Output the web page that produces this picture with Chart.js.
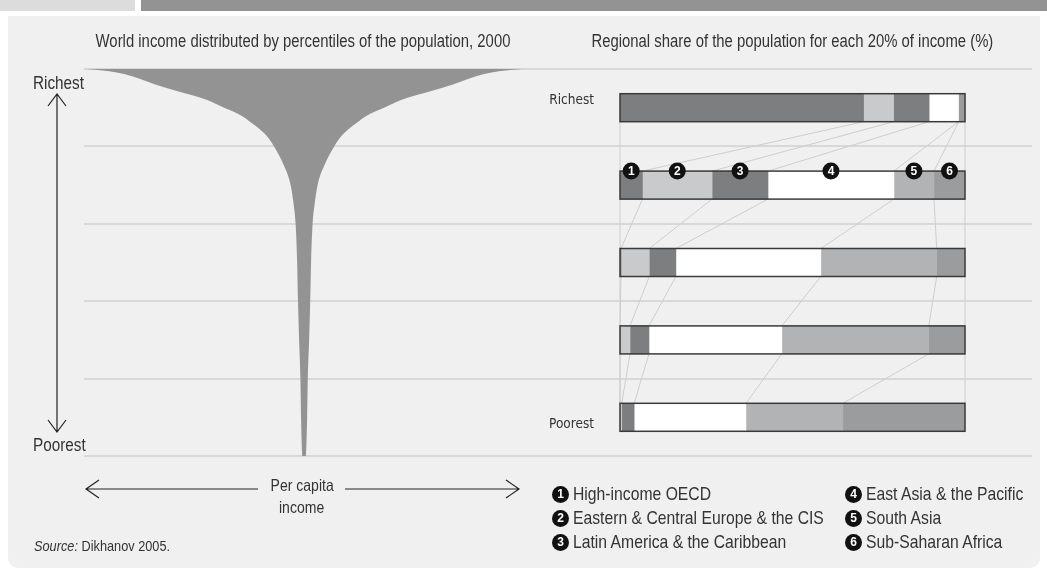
<!DOCTYPE html>
<html>
<head>
<meta charset="utf-8">
<script src="https://cdn.jsdelivr.net/npm/chart.js@4.4.1/dist/chart.umd.min.js"></script>
<style>
  body { margin: 0; width: 1047px; height: 572px; position: relative; overflow: hidden; background: #fff;
         font-family: "Liberation Sans", Arial, sans-serif; color: #333; }
  .abs { position: absolute; }
  .hdrL { left: 0; top: 0; width: 135px; height: 11px; background: #dcdcdc; }
  .hdrR { left: 141px; top: 0; width: 906px; height: 11px; background: #939393; }
  .panel { left: 8px; top: 16px; width: 1032px; height: 552px; background: #f0f0f0; border-radius: 0 0 10px 10px; }
  canvas { position: absolute; left: 0; top: 0; }
  .c { display: inline-block; white-space: nowrap; transform: scaleX(0.85); transform-origin: 0 50%; }
  .mid .c { transform-origin: 50% 50%; }
  .title { font-size: 17.5px; text-align: center; top: 31px; }
  .side { font-size: 18px; left: 33px; }
  .legend { font-size: 18.5px; white-space: nowrap; }
  .legend div { display: flex; align-items: center; height: 24px; }
  .num { flex: none; width: 17px; height: 17px; border-radius: 50%; background: #111; color: #fff;
         font: bold 12px "Liberation Sans", Arial, sans-serif; line-height: 17px; text-align: center;
         margin-right: 4px; }
</style>
</head>
<body>
<div class="abs hdrL"></div>
<div class="abs hdrR"></div>
<div class="abs panel"></div>
<canvas id="funnel" width="1047" height="572"></canvas>
<canvas id="shares" width="1047" height="572"></canvas>

<div class="abs title mid" style="left:0;width:606px"><span class="c">World income distributed by percentiles of the population, 2000</span></div>
<div class="abs title mid" style="left:492px;width:600px"><span class="c">Regional share of the population for each 20% of income (%)</span></div>
<div class="abs side" style="top:73px"><span class="c">Richest</span></div>
<div class="abs side" style="top:435px"><span class="c">Poorest</span></div>
<div class="abs mid" style="left:242px;width:120px;top:474px;text-align:center;font-size:16.5px;line-height:22px"><span class="c">Per capita</span><br><span class="c">income</span></div>
<div class="abs" style="left:34px;top:537px;font-size:15px"><span class="c"><i>Source:</i> Dikhanov 2005.</span></div>
<div class="abs legend" id="leg1" style="left:552px;top:482px"></div>
<div class="abs legend" id="leg2" style="left:845px;top:482px"></div>

<svg class="abs" style="left:0;top:0" width="1047" height="572" fill="none" stroke="#222" stroke-width="1.2">
  <path d="M57 94 V432 M48 106 L57 94 L66 106 M48 420 L57 432 L66 420"/>
  <path d="M86 489 H258 M99 480 L86 489 L99 498 M345 489 H519 M506 480 L519 489 L506 498"/>
</svg>

<script>
// world income by population percentile (half-width of the glass, top = 100)
const percentiles = [0, 10, 20, 30, 40, 50, 60, 65, 70, 75, 80, 83, 86, 88, 90, 92, 94, 96, 97.4, 98.7, 99.4, 100];
const incomeSpread = [0.8, 1.4, 1.7, 2.3, 2.8, 3.2, 3.9, 4.8, 6.2, 9.2, 13.8, 17.6, 23.9, 28.9, 36.7, 44.5, 56.4, 68.3, 75.2, 82.6, 89.4, 100];

// regional share of population in each income quintile, richest first (%)
const quintileLabels = [["Richest", ""], "", "", "", ["", "Poorest"]];
const regions = ["High-income OECD", "Eastern & Central Europe & the CIS", "Latin America & the Caribbean",
                 "East Asia & the Pacific", "South Asia", "Sub-Saharan Africa"];
const oecd      = [70.6, 6.5, 0.3, 0, 0];
const eca       = [8.7, 20.2, 8.2, 2.9, 0.5];
const lac       = [10.3, 16.2, 7.7, 5.5, 3.6];
const eap       = [8.5, 36.5, 42.0, 38.5, 32.4];
const southAsia = [0.1, 11.6, 33.6, 42.6, 28.1];
const ssa       = [1.8, 9.0, 8.2, 10.5, 35.4];
const regionColors = ["#7d7e80", "#c9cacc", "#7d7e80", "#ffffff", "#b1b3b5", "#9b9c9e"];

// legend
regions.forEach((r, i) => {
  const row = document.createElement("div");
  row.innerHTML = '<span class="num">' + (i + 1) + '</span><span class="c">' + r.replace(/&/g, "&amp;") + '</span>';
  document.getElementById(i < 3 ? "leg1" : "leg2").appendChild(row);
});

// champagne glass
const funnelPoints = [];
for (let i = percentiles.length - 1; i >= 0; i--) funnelPoints.push({ x: -incomeSpread[i], y: percentiles[i] });
for (let i = 0; i < percentiles.length; i++) funnelPoints.push({ x: incomeSpread[i], y: percentiles[i] });

new Chart(document.getElementById("funnel"), {
  type: "line",
  data: {
    datasets: [{
      data: funnelPoints,
      fill: "end",
      backgroundColor: "#939393",
      borderWidth: 0,
      pointRadius: 0,
      cubicInterpolationMode: "monotone"
    }]
  },
  options: {
    responsive: false,
    animation: false,
    layout: { padding: { left: 84, right: 15, top: 69, bottom: 116 } },
    plugins: { legend: { display: false }, tooltip: { enabled: false } },
    scales: {
      x: { type: "linear", min: -101, max: 334, display: false },
      y: {
        min: 0, max: 100,
        ticks: { display: false, stepSize: 20 },
        grid: { color: "#d8d8d8", lineWidth: 2, drawTicks: false },
        border: { display: false },
        afterFit: s => { s.width = 0; }
      }
    }
  }
});

// connectors, outlines and numbered markers for the bars
const barDecor = {
  id: "barDecor",
  beforeDatasetsDraw(chart) {
    const ctx = chart.ctx;
    const metas = chart.data.datasets.map((_, k) => chart.getDatasetMeta(k));
    const edges = r => [metas[0].data[r].base].concat(metas.map(m => m.data[r].x));
    ctx.save();
    ctx.strokeStyle = "#cdcdcd";
    ctx.lineWidth = 1;
    for (let r = 0; r < quintileLabels.length - 1; r++) {
      const a = edges(r), b = edges(r + 1);
      const e0 = metas[0].data[r], e1 = metas[0].data[r + 1];
      const y0 = e0.y + e0.height / 2, y1 = e1.y - e1.height / 2;
      a.forEach((x, i) => {
        ctx.beginPath();
        ctx.moveTo(x, y0);
        ctx.lineTo(b[i], y1);
        ctx.stroke();
      });
    }
    ctx.restore();
  },
  afterDatasetsDraw(chart) {
    const ctx = chart.ctx;
    const metas = chart.data.datasets.map((_, k) => chart.getDatasetMeta(k));
    ctx.save();
    ctx.strokeStyle = "#3a3a3a";
    ctx.lineWidth = 1.5;
    for (let r = 0; r < quintileLabels.length; r++) {
      const first = metas[0].data[r], last = metas[metas.length - 1].data[r];
      ctx.strokeRect(first.base, first.y - first.height / 2, last.x - first.base, first.height);
    }
    // numbered markers on the second quintile
    ctx.font = "bold 12px 'Liberation Sans', Arial, sans-serif";
    ctx.textAlign = "center";
    ctx.textBaseline = "middle";
    metas.forEach((m, k) => {
      const el = m.data[1];
      const cx = (el.base + el.x) / 2, cy = el.y - el.height / 2;
      ctx.fillStyle = "#111";
      ctx.beginPath();
      ctx.arc(cx, cy, 8.5, 0, Math.PI * 2);
      ctx.fill();
      ctx.fillStyle = "#fff";
      ctx.fillText(String(k + 1), cx, cy + 1);
    });
    ctx.restore();
  }
};

new Chart(document.getElementById("shares"), {
  type: "bar",
  data: {
    labels: quintileLabels,
    datasets: [oecd, eca, lac, eap, southAsia, ssa].map((d, k) => ({
      label: regions[k],
      data: d,
      backgroundColor: regionColors[k],
      borderWidth: 0,
      barThickness: 28
    }))
  },
  options: {
    indexAxis: "y",
    responsive: false,
    animation: false,
    layout: { padding: { left: 520, right: 82, top: 69, bottom: 116 } },
    plugins: { legend: { display: false }, tooltip: { enabled: false } },
    scales: {
      x: { stacked: true, min: 0, max: 100, display: false },
      y: {
        stacked: true,
        grid: { display: false, drawTicks: false },
        border: { display: false },
        ticks: { color: "#333", padding: 26, font: { family: "'DejaVu Sans Condensed', sans-serif", size: 13.5, lineHeight: 1 } },
        afterFit: s => { s.width = 100; }
      }
    }
  },
  plugins: [barDecor]
});
</script>
</body>
</html>
